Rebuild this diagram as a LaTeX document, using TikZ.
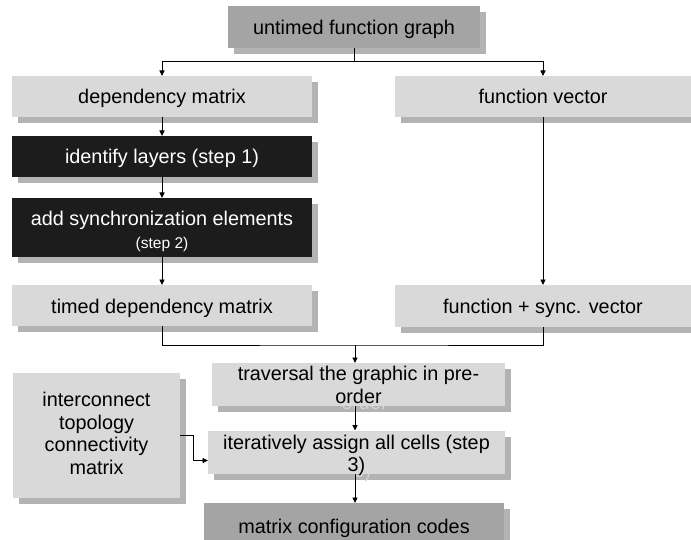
\documentclass[tikz,border=0pt]{standalone}
\usepackage{fontspec}
\setmainfont{Liberation Sans}
\usetikzlibrary{arrows.meta}

\definecolor{boxlight}{HTML}{D9D9D9}
\definecolor{boxdark}{HTML}{A4A4A4}
\definecolor{boxblack}{HTML}{1C1C1C}
\definecolor{shadowgray}{HTML}{B3B3B3}
\definecolor{ghosttext}{HTML}{D4D4D4}

\tikzset{
  every node/.style={inner sep=0pt, outer sep=0pt},
  panel/.style={rectangle, draw=none},
  lightbox/.style={panel, fill=boxlight},
  darkbox/.style={panel, fill=boxdark},
  blackbox/.style={panel, fill=boxblack},
  shadowbox/.style={panel, fill=shadowgray},
  caption/.style={align=center, font=\fontsize{19.9}{22.7}\selectfont},
  ghost/.style={caption, text=ghosttext},
  link/.style={draw=black, line width=0.9bp},
  arr/.style={link, -{Triangle[length=5.5bp,width=5bp]}},
}

% #1 box style, #2 name, #3 centre, #4 width, #5 height,
% #6 text colour, #7 vertical text offset, #8 text,
% #9 part of the text that shows through the drop shadow
\newcommand\flowbox[9]{%
  \node[shadowbox, minimum width=#4, minimum height=#5,
        xshift=6bp, yshift=-6bp] (#2-shadow) at (#3) {};
  \node[ghost] (#2-ghost) at ([yshift=#7]#2-shadow.center) {#9};
  \node[#1, minimum width=#4, minimum height=#5] (#2) at (#3) {};
  \node[caption, text=#6] (#2-text) at ([yshift=#7]#2.center) {#8};
}

\begin{document}
\begin{tikzpicture}[x=1bp, y=-1bp]
\useasboundingbox (0,0) rectangle (691,540);
\clip (0,0) rectangle (691,540);

% left column
\flowbox{darkbox}{untimed}{354,27}{252bp}{42bp}{black}{-2.8bp}{untimed function graph}{}
\flowbox{lightbox}{dep}{162,96.5}{300bp}{41bp}{black}{-1.7bp}{dependency matrix}{}
\flowbox{blackbox}{ident}{162,156.5}{300bp}{41bp}{white}{-1.6bp}{identify layers (step 1)}{}
\flowbox{blackbox}{addsync}{162,227.5}{300bp}{59bp}{white}{-4bp}{add synchronization elements\\{\fontsize{15.6}{18}\selectfont (step 2)}}{}
\flowbox{lightbox}{timed}{162,305.5}{300bp}{41bp}{black}{-2.7bp}{timed dependency matrix}{}

% right column
\flowbox{lightbox}{fvec}{543,96.5}{296bp}{41bp}{black}{0bp}{function vector}{}
\flowbox{lightbox}{fsync}{543,306}{296bp}{42bp}{black}{-2.2bp}{function + sync. vector}{}

% lower part
\flowbox{lightbox}{inter}{96.5,435.5}{167bp}{125bp}{black}{2bp}{interconnect\\topology\\connectivity\\matrix}{}
\flowbox{lightbox}{trav}{358.5,384.5}{293bp}{43bp}{black}{-0.6bp}{traversal the graphic in pre-\\order}{\phantom{traversal the graphic in pre-}\\order}
\flowbox{lightbox}{iter}{356.5,452}{297bp}{43bp}{black}{-3.4bp}{iteratively assign all cells (step\\3)}{\phantom{iteratively assign all cells (step}\\3)}
\flowbox{darkbox}{mcc}{354,526}{300bp}{46bp}{black}{-2bp}{matrix configuration codes}{}

% connectors
\coordinate (fork) at (354,61);
\coordinate (merge) at (355,345);
\draw[link] (untimed.south) -- (fork);
\draw[arr] (fork) -| (dep.north);
\draw[arr] (fork) -| (fvec.north);
\draw[arr] (dep.south) -- (ident.north);
\draw[arr] (ident.south) -- (addsync.north);
\draw[arr] (addsync.south) -- (timed.north);
\draw[arr] (fvec.south) -- (fsync.north);
\draw[link] (timed.south) |- (merge) -| (fsync.south);
\draw[arr] (merge) -- (merge |- trav.north);
\draw[arr] (trav.south -| merge) -- (iter.north -| merge);
\draw[arr] (iter.south -| merge) -- (mcc.north -| merge);
\draw[arr] (inter.east) -- ++(13,0) |- ([yshift=-8.5bp]iter.west);
\end{tikzpicture}
\end{document}
